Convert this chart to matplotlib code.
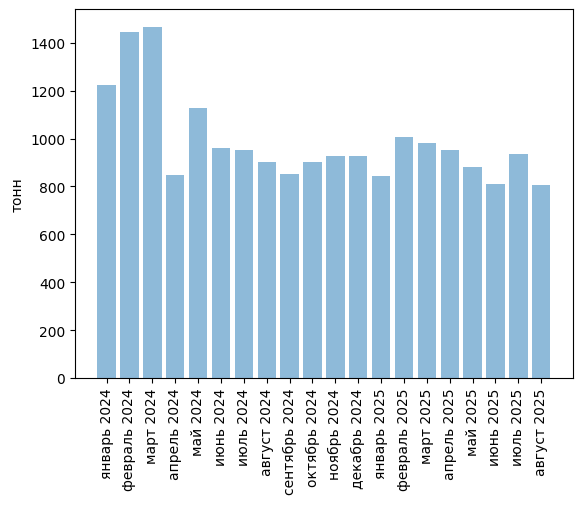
import matplotlib
matplotlib.use("Agg")
import matplotlib.pyplot as plt

months = ['январь 2024', 'февраль 2024', 'март 2024', 'апрель 2024', 'май 2024',
          'июнь 2024', 'июль 2024', 'август 2024', 'сентябрь 2024', 'октябрь 2024',
          'ноябрь 2024', 'декабрь 2024', 'январь 2025', 'февраль 2025', 'март 2025',
          'апрель 2025', 'май 2025', 'июнь 2025', 'июль 2025', 'август 2025']
tons = [1224, 1446, 1467, 846, 1129, 962, 950, 900, 850, 900,
        925, 925, 842, 1008, 983, 954, 883, 808, 937, 804]

fig, ax = plt.subplots(figsize=(5.8, 5.06), dpi=100)
fig.subplots_adjust(left=0.129, right=0.988, top=0.98, bottom=0.251)
ax.bar(months, tons, alpha=0.5)
ax.set_ylabel('тонн')
ax.tick_params(axis='x', labelrotation=90)
fig.savefig('out.png')
